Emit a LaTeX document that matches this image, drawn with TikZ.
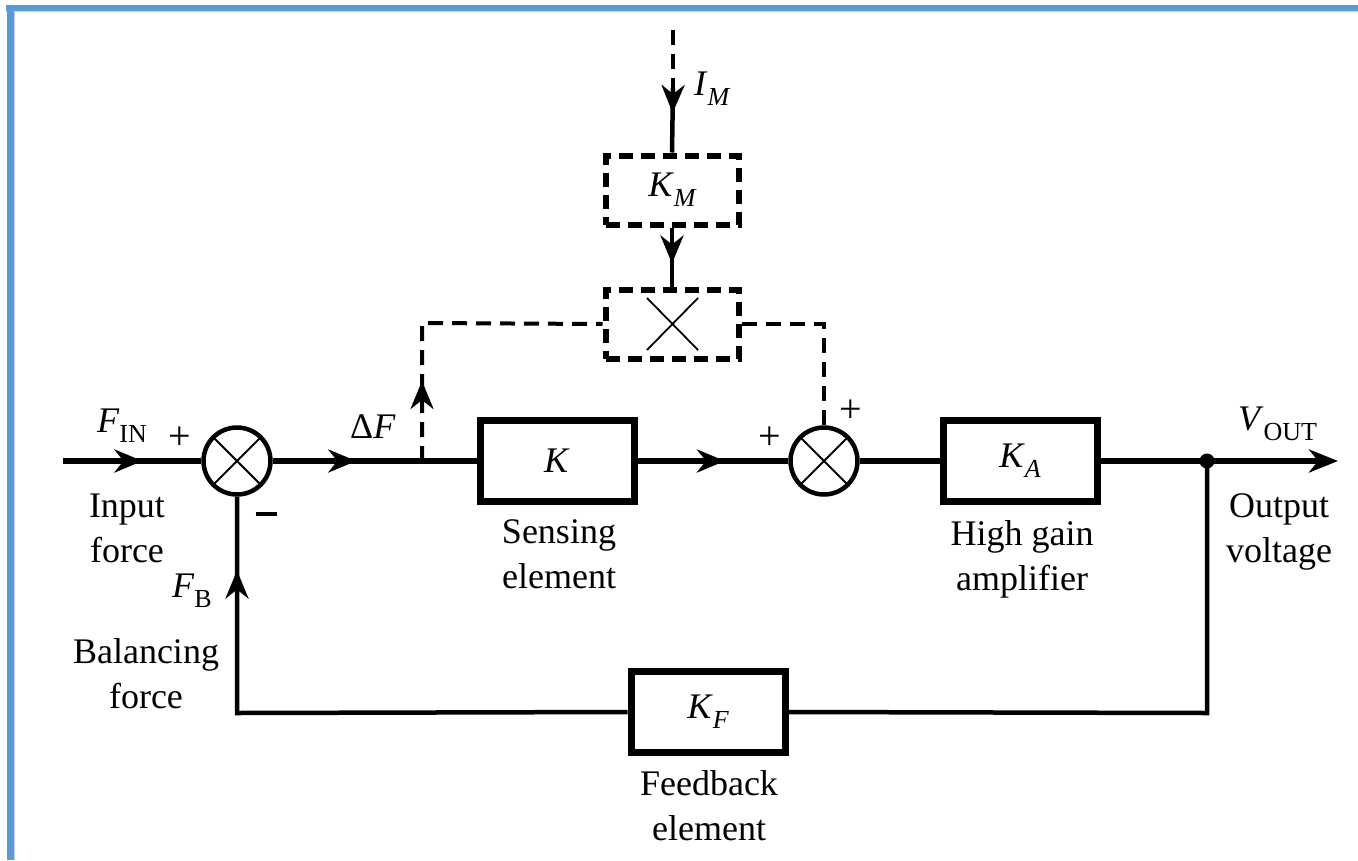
\documentclass[tikz,border=0pt]{standalone}
\usepackage{fontspec}
\setmainfont{Liberation Serif}
\usetikzlibrary{arrows.meta,decorations.markings}
\newcommand{\subup}[1]{\raisebox{-0.28em}{\fontsize{26}{26}\selectfont #1}}
\newcommand{\subit}[1]{\raisebox{-0.28em}{\fontsize{26}{26}\selectfont\itshape #1}}
\begin{document}
\begin{tikzpicture}[x=1pt,y=-1pt,
  every node/.style={font=\fontsize{36}{45}\selectfont, inner sep=0pt},
  mainln/.style={line width=6.5pt},
  fbln/.style={line width=4.5pt},
  dashln/.style={line width=4pt, dash pattern=on 15pt off 9pt},
  blk/.style={draw, line width=7pt, minimum width=154pt, minimum height=81pt},
  dblk/.style={draw, line width=6pt, dash pattern=on 14pt off 8pt, minimum width=133pt, minimum height=69pt},
  sumj/.style={draw, circle, line width=4.5pt, minimum size=67pt},
  crossln/.style={line width=1.8pt},
  midarrow/.style={postaction={decorate}, decoration={markings,
     mark=at position #1 with {\arrow{Stealth[length=28pt,width=23pt,inset=9pt]}}}},
  lbl/.style={align=center, anchor=base},
  pm/.style={font=\fontsize{40}{40}\selectfont}
]
\useasboundingbox (0,0) rectangle (1358,860);
% frame
\fill[blue!20!white] (6,5) rectangle (1358,12);
\fill[blue!20!white] (7,5) rectangle (15,860);
\fill[color={rgb,255:red,91;green,155;blue,213}] (6,5) rectangle (1358,10.5);
\fill[color={rgb,255:red,91;green,155;blue,213}] (7,5) rectangle (13.5,860);

% nodes
\coordinate (in) at (63,461);
\node[sumj] (j1) at (237,461) {};
\node[blk] (K) at (557,461) {\textit{K}};
\node[sumj] (j2) at (824,461) {};
\node[blk] (KA) at (1020,461) {\textit{K}\subit{A}};
\node[blk] (KF) at (708,712) {\textit{K}\subit{F}};
\node[dblk] (KM) at (672,190) {\textit{K}\subit{M}};
\node[dblk] (MX) at (672,324) {};
\coordinate (br) at (422,461);
\coordinate (brt) at (422,323);
\coordinate (j2t) at (824,323);
\coordinate (dot) at (1207,461);
\coordinate (out) at (1338,461);
\coordinate (fbl) at (237,713);
\coordinate (fbr) at (1207,713);
\coordinate (imtop) at (673,30);
\coordinate (immid) at (673,88);

% crosses
\foreach \j in {j1,j2}{
  \draw[crossln] (\j.north west) -- (\j.south east);
  \draw[crossln] (\j.north east) -- (\j.south west);
}
\draw[crossln] (647,298) -- (698,350);
\draw[crossln] (698,298) -- (647,350);

% main path
\draw[mainln, midarrow=0.575] (in) -- (j1.west);
\draw[mainln, midarrow=0.41] (j1.east) -- (K.west);
\draw[mainln, midarrow=0.58] (K.east) -- (j2.west);
\draw[mainln] (j2.east) -- (KA.west);
\draw[mainln] (KA.east) -- (dot);
\draw[mainln, -{Stealth[length=29pt,width=23pt,inset=9pt]}] (dot) -- (out);
\fill (dot) circle (7.5pt);

% feedback
\draw[fbln] (dot) -- (fbr) -- (KF.east);
\draw[fbln, midarrow=533pt] (KF.west) -- (fbl) -- (j1.south);

% dashed branch
\draw[dashln, midarrow=80pt] (br) -- (brt) -- (MX.west);
\draw[dashln] (MX.east) -- (j2t |- MX.east) -- (j2.north);

% I_M path
\draw[dashln] (imtop) -- (immid);
\draw[fbln, midarrow=25pt] (immid) -- (KM.north);
\draw[fbln, midarrow=36pt] (KM.south) -- (MX.north);

% labels
\node[anchor=base west] (lFin) at (97,432) {\textit{F}\subup{IN}};
\node[pm] (lp1) at (180,438) {+};
\node (lm1) at (266,514) {\rule{21pt}{4pt}};
\node[lbl] (lInput) at (127,562) {Input\\force};
\node[anchor=base west] (lFb) at (172,597) {\textit{F}\subup{B}};
\node[lbl] (lBal) at (146,708) {Balancing\\force};
\node[anchor=base west] (lDF) at (350,438) {Δ\textit{F}};
\node[lbl] (lSens) at (559,588) {Sensing\\element};
\node[pm] (lp2) at (770,438) {+};
\node[pm] (lp3) at (851,411) {+};
\node[lbl] (lHigh) at (1022,590) {High gain\\amplifier};
\node[anchor=base west] (lVout) at (1238,430) {\textit{V}\subup{OUT}};
\node[lbl] (lOut) at (1279,562) {Output\\voltage};
\node[lbl] (lFeed) at (709,840) {Feedback\\element};
\node[anchor=base west] (lIm) at (694,95) {\textit{I}\subit{M}};
\end{tikzpicture}
\end{document}
